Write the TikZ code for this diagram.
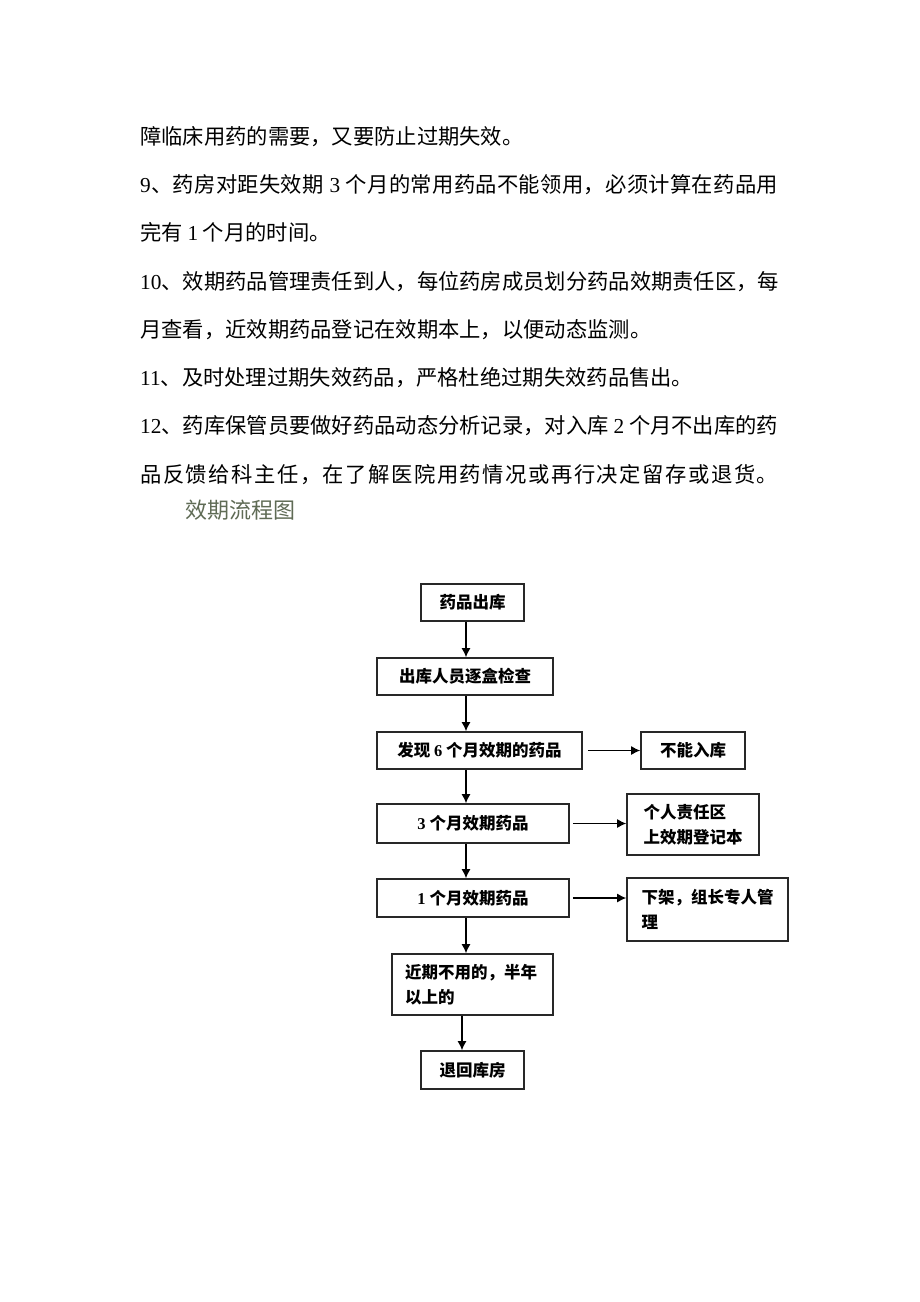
\documentclass[tikz,border=0pt]{standalone}
\usepackage{fontspec}
\setmainfont{Noto Sans CJK SC}
\newfontfamily\numfont{Liberation Serif}
\usetikzlibrary{arrows.meta}
\definecolor{titlegreen}{RGB}{95,107,85}
\definecolor{boxline}{RGB}{40,40,40}
\tikzset{
  bodytext/.style={anchor=base west,inner sep=0pt,font=\fontsize{21.3}{26}\selectfont},
  flowbox/.style={draw=boxline,line width=1.6pt,inner sep=0pt,font=\fontsize{16.5}{25}\selectfont\bfseries},
  flowarrow/.style={line width=1.3pt,-{Latex[length=9pt,width=9pt]}}
}
\makeatletter
\newcommand{\spreadline}[1]{\hbox to 638pt{\let\sep\relax\@tfor\ch:=#1\do{\sep\ch\let\sep\hfil}}}
\makeatother
\newcommand{\txtline}[3]{\node[bodytext] (#1) at (140,#2) {#3};}
\newcommand{\fullline}[3]{\node[bodytext] (#1) at (140,#2) {\spreadline{#3}};}
\newcommand{\dg}[1]{{\numfont #1}}

\begin{document}
\begin{tikzpicture}[x=1pt,y=-1pt]
    \path[use as bounding box,fill=white] (0,0) rectangle (920,1302);

    % text
    \txtline{l1}{144}{障临床用药的需要，又要防止过期失效。}
    \fullline{l2}{192}{{\dg{9}}、药房对距失效期{\dg{~3~}}个月的常用药品不能领用，必须计算在药品用}
    \txtline{l3}{240}{完有 \dg{1} 个月的时间。}
    \fullline{l4}{289}{{\dg{10}}、效期药品管理责任到人，每位药房成员划分药品效期责任区，每}
    \txtline{l5}{337}{月查看，近效期药品登记在效期本上，以便动态监测。}
    \txtline{l6}{385}{\dg{11}、及时处理过期失效药品，严格杜绝过期失效药品售出。}
    \fullline{l7}{433}{{\dg{12}}、药库保管员要做好药品动态分析记录，对入库{\dg{~2~}}个月不出库的药}
    \fullline{l8}{482}{品反馈给科主任，在了解医院用药情况或再行决定留存或退货。}
    \node[bodytext,text=titlegreen,font=\fontsize{22}{26}\selectfont] (title) at (185,518) {效期流程图};

    % main column
    \node[flowbox,minimum width=103,minimum height=37] (out) at (472.5,602.5) {药品出库};
    \node[flowbox,minimum width=176,minimum height=37] (chk) at (465,676.5) {出库人员逐盒检查};
    \node[flowbox,minimum width=205,minimum height=37] (six) at (479.5,750.5) {发现 \dg{\bfseries 6} 个月效期的药品};
    \node[flowbox,minimum width=192,minimum height=39] (thr) at (473,823.5) {\dg{\bfseries 3} 个月效期药品};
    \node[flowbox,minimum width=192,minimum height=38] (one) at (473,898) {\dg{\bfseries 1} 个月效期药品};
    \node[flowbox,minimum width=161,minimum height=61,text width=135,align=left] (near) at (472.5,984.5) {近期不用的，半年\\以上的};
    \node[flowbox,minimum width=103,minimum height=38] (ret) at (472.5,1070) {退回库房};

    % side boxes
    \node[flowbox,minimum width=104,minimum height=37] (nin) at (693,750.5) {不能入库};
    \node[flowbox,minimum width=132,minimum height=61,align=left] (reg) at (693,824.5) {个人责任区\\上效期登记本};
    \node[flowbox,minimum width=161,minimum height=63,align=left] (mgr) at (707.5,909.5) {下架，组长专人管\\理};

    % arrows
    \coordinate (spine) at (466,0);
    \coordinate (spine2) at (462,0);
    \draw[flowarrow] (out.south -| spine) -- (chk.north -| spine);
    \draw[flowarrow] (chk.south -| spine) -- (six.north -| spine);
    \draw[flowarrow] (six.south -| spine) -- (thr.north -| spine);
    \draw[flowarrow] (thr.south -| spine) -- (one.north -| spine);
    \draw[flowarrow] (one.south -| spine) -- (near.north -| spine);
    \draw[flowarrow] (near.south -| spine2) -- (ret.north -| spine2);
    \draw[flowarrow,shorten <=5pt] (six.east) -- (nin.west);
    \draw[flowarrow,shorten <=3pt] (thr.east) -- (thr.east -| reg.west);
    \draw[flowarrow,shorten <=3pt] (one.east) -- (one.east -| mgr.west);
\end{tikzpicture}
\end{document}
